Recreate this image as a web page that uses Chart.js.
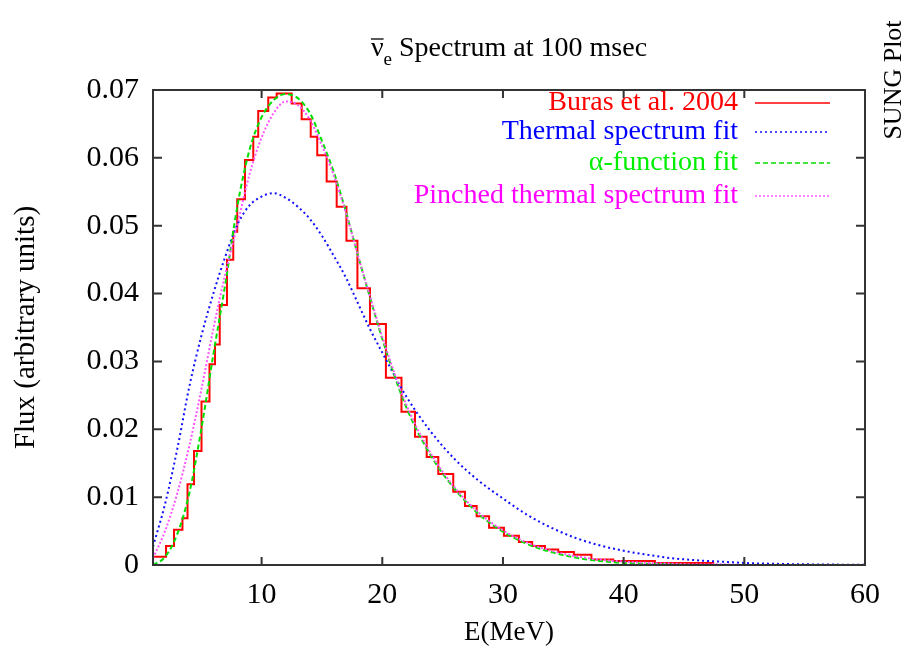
<!DOCTYPE html>
<html>
<head>
<meta charset="utf-8">
<script src="https://cdn.jsdelivr.net/npm/chart.js@4.4.0/dist/chart.umd.min.js"></script>
<style>
  html, body { margin: 0; padding: 0; background: #fff; }
</style>
</head>
<body>
<canvas id="spectrum" width="910" height="655"></canvas>
<script>
// histogram (Buras et al. 2004): bin edges in MeV and flux per bin
const histEdges = [1.00, 2.08, 2.74, 3.44, 3.86, 4.40, 5.02, 5.68, 6.14, 6.53, 7.13, 7.65, 7.98, 8.62, 9.31, 9.72,
    10.55, 11.25, 12.49, 13.32, 14.07, 14.61, 15.39, 16.22, 17.03, 17.94, 18.98, 20.30, 21.59, 22.71, 23.68,
    24.64, 25.88, 26.85, 27.82, 28.85, 30.08, 31.32, 32.42, 33.48, 34.58, 35.88, 37.33, 39.14, 42.59, 47.42];
const histFlux = [0.0012, 0.0028, 0.0052, 0.0069, 0.0119, 0.0168, 0.0241, 0.0296, 0.0325, 0.0383, 0.0450, 0.0491,
    0.0539, 0.0597, 0.0631, 0.0669, 0.0689, 0.0695, 0.0680, 0.0657, 0.0631, 0.0604, 0.0565, 0.0528, 0.0478,
    0.0408, 0.0355, 0.0276, 0.0226, 0.0189, 0.0159, 0.0134, 0.0108, 0.0087, 0.0072, 0.0055, 0.0043, 0.0034,
    0.0028, 0.0023, 0.0019, 0.0015, 0.0008, 0.0006, 0.0003];

const fitEnergy = [1, 2, 3, 4, 5, 6, 7, 8, 9, 10, 11, 12, 13, 14, 15, 16, 17, 18, 19, 20,
    22, 24, 26, 28, 30, 32, 34, 36, 38, 40, 42, 44, 46, 48, 50, 52, 55, 60];
const thermalFit = [0.0027, 0.0090, 0.0170, 0.0262, 0.0337, 0.0400, 0.0455, 0.0502, 0.0530, 0.0543, 0.0548,
    0.0541, 0.0528, 0.0510, 0.0485, 0.0455, 0.0423, 0.0385, 0.0347, 0.0313, 0.0248, 0.0197, 0.0156, 0.0124,
    0.0098, 0.0074, 0.0055, 0.0040, 0.0029, 0.0021, 0.0015, 0.0010, 0.0007, 0.0005, 0.0003, 0.0002, 0.0001, 0.00003];
const alphaFit = [0.0000, 0.0012, 0.0045, 0.0105, 0.0200, 0.0310, 0.0415, 0.0530, 0.0612, 0.0660, 0.0685,
    0.0694, 0.0688, 0.0666, 0.0625, 0.0578, 0.0520, 0.0455, 0.0393, 0.0333, 0.0232, 0.0162, 0.0112, 0.0075,
    0.0049, 0.0031, 0.0019, 0.0011, 0.0006, 0.0003, 0.0002, 0.0001, 0.0000, 0.0000, 0.0000, 0.0000, 0.0000, 0.0000];
const pinchedFit = [0.0010, 0.0050, 0.0105, 0.0175, 0.0258, 0.0348, 0.0430, 0.0502, 0.0576, 0.0630, 0.0666,
    0.0683, 0.0678, 0.0656, 0.0618, 0.0573, 0.0518, 0.0455, 0.0395, 0.0336, 0.0236, 0.0165, 0.0114, 0.0077,
    0.0051, 0.0033, 0.0021, 0.0013, 0.0008, 0.0005, 0.0003, 0.0002, 0.0001, 0.0001, 0.0000, 0.0000, 0.0000, 0.0000];

const seriesNames = ['Buras et al. 2004', 'Thermal spectrum fit', '\u03b1-function fit', 'Pinched thermal spectrum fit'];
const xTickValues = [10, 20, 30, 40, 50, 60];
const yTickValues = [0, 0.01, 0.02, 0.03, 0.04, 0.05, 0.06, 0.07];

const serif = '"Liberation Serif", "Times New Roman", serif';
const colors = { red: '#ff0000', blue: '#1010ff', green: '#00e000', magenta: '#ff55ff', axis: '#333333' };

// step outline of the histogram
const histPoints = [{ x: histEdges[0], y: 0 }];
histFlux.forEach((f, i) => histPoints.push({ x: histEdges[i], y: f }));
histPoints.push({ x: histEdges[histEdges.length - 1], y: 0 });

const toPoints = (ys) => fitEnergy.map((e, i) => ({ x: e, y: ys[i] }));

const styles = [
    { color: colors.red, text: '#ff0000', dash: [] },
    { color: colors.blue, text: '#0000ff', dash: [2, 3] },
    { color: colors.green, text: '#00ee00', dash: [5, 3] },
    { color: colors.magenta, text: '#ff00ff', dash: [2, 2] }
];

// frame + inward tick marks, gnuplot style
const framePlugin = {
    id: 'frame',
    afterDatasetsDraw(chart) {
        const { ctx, chartArea: a, scales: { x, y } } = chart;
        ctx.save();
        ctx.strokeStyle = colors.axis;
        ctx.lineWidth = 2;
        ctx.beginPath();
        xTickValues.forEach(v => {
            const px = x.getPixelForValue(v);
            ctx.moveTo(px, a.bottom); ctx.lineTo(px, a.bottom - 8);
            ctx.moveTo(px, a.top); ctx.lineTo(px, a.top + 8);
        });
        yTickValues.forEach(v => {
            const py = y.getPixelForValue(v);
            ctx.moveTo(a.left, py); ctx.lineTo(a.left + 9, py);
            ctx.moveTo(a.right, py); ctx.lineTo(a.right - 9, py);
        });
        ctx.stroke();
        ctx.strokeRect(a.left, a.top, a.right - a.left, a.bottom - a.top);
        ctx.restore();
    }
};

// title with nu-bar_e, key in the top right, and the side label
const textPlugin = {
    id: 'texts',
    afterDraw(chart) {
        const { ctx, chartArea: a } = chart;
        ctx.save();
        ctx.fillStyle = '#000';
        ctx.textBaseline = 'alphabetic';

        // title
        const big = `28px ${serif}`, small = `19px ${serif}`;
        const rest = ' Spectrum at 100 msec';
        ctx.font = big;
        const wNu = ctx.measureText('\u03bd').width;
        const wRest = ctx.measureText(rest).width;
        ctx.font = small;
        const wE = ctx.measureText('e').width;
        const base = 56;
        let x0 = (a.left + a.right) / 2 - (wNu + wE + wRest) / 2;
        ctx.font = big;
        ctx.textAlign = 'left';
        ctx.fillText('\u03bd', x0, base);
        ctx.strokeStyle = '#000';
        ctx.lineWidth = 1.3;
        ctx.beginPath();
        ctx.moveTo(x0, base - 17); ctx.lineTo(x0 + wNu, base - 17);
        ctx.stroke();
        ctx.font = small;
        ctx.fillText('e', x0 + wNu, base + 9);
        ctx.font = big;
        ctx.fillText(rest, x0 + wNu + wE, base);

        // key
        ctx.font = `28px ${serif}`;
        ctx.textAlign = 'right';
        ctx.textBaseline = 'middle';
        const rowY = [103, 132, 163, 196];
        seriesNames.forEach((name, i) => {
            ctx.fillStyle = styles[i].text;
            ctx.fillText(name, 738, rowY[i]);
            ctx.strokeStyle = styles[i].color;
            ctx.lineWidth = 1.5;
            ctx.setLineDash(styles[i].dash);
            ctx.beginPath();
            ctx.moveTo(755, rowY[i]); ctx.lineTo(830, rowY[i]);
            ctx.stroke();
        });
        ctx.setLineDash([]);

        // side label
        ctx.fillStyle = '#000';
        ctx.font = `26px ${serif}`;
        ctx.translate(894, 80);
        ctx.rotate(-Math.PI / 2);
        ctx.textAlign = 'center';
        ctx.fillText('SUNG Plot', 0, 0);
        ctx.restore();
    }
};

const lineBase = { pointRadius: 0, borderWidth: 2, fill: false };

new Chart(document.getElementById('spectrum'), {
    type: 'line',
    data: {
        datasets: [
            { ...lineBase, label: seriesNames[0], data: histPoints, borderColor: colors.red, stepped: true, order: 4 },
            { ...lineBase, label: seriesNames[1], data: toPoints(thermalFit), borderColor: colors.blue,
              borderDash: styles[1].dash, cubicInterpolationMode: 'monotone', order: 3 },
            { ...lineBase, label: seriesNames[2], data: toPoints(alphaFit), borderColor: colors.green,
              borderDash: styles[2].dash, cubicInterpolationMode: 'monotone', order: 2 },
            { ...lineBase, label: seriesNames[3], data: toPoints(pinchedFit), borderColor: colors.magenta,
              borderDash: styles[3].dash, cubicInterpolationMode: 'monotone', order: 1 }
        ]
    },
    options: {
        responsive: false,
        animation: false,
        parsing: false,
        layout: { padding: { top: 90, right: 45, left: 0, bottom: 0 } },
        plugins: { legend: { display: false }, title: { display: false }, tooltip: { enabled: false } },
        scales: {
            x: {
                type: 'linear', min: 1, max: 60,
                grid: { display: false, drawTicks: false }, border: { display: false },
                afterBuildTicks: s => { s.ticks = xTickValues.map(v => ({ value: v })); },
                afterFit: s => { s.height = 90; },
                ticks: { color: '#000', padding: 12, maxRotation: 0, font: { family: serif, size: 30 } },
                title: { display: true, text: 'E(MeV)', color: '#000', padding: { top: 0, bottom: 6 },
                         font: { family: serif, size: 27 } }
            },
            y: {
                type: 'linear', min: 0, max: 0.07,
                grid: { display: false, drawTicks: false }, border: { display: false },
                afterBuildTicks: s => { s.ticks = yTickValues.map(v => ({ value: v })); },
                afterFit: s => { s.width = 153; },
                ticks: { color: '#000', padding: 14, font: { family: serif, size: 30 },
                         callback: v => v === 0 ? '0' : v.toFixed(2) },
                title: { display: true, text: 'Flux (arbitrary units)', color: '#000', padding: { top: 9, bottom: 0 },
                         font: { family: serif, size: 29 } }
            }
        }
    },
    plugins: [framePlugin, textPlugin]
});
</script>
</body>
</html>
